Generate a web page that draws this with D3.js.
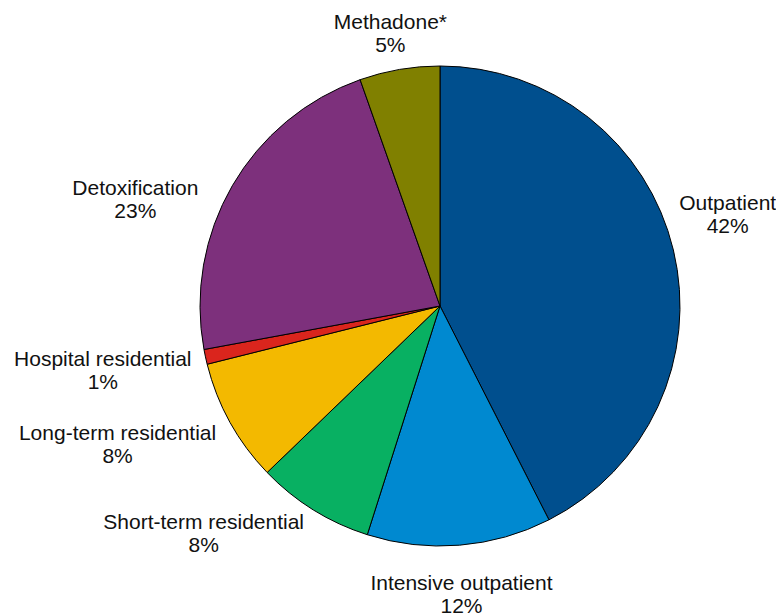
<!DOCTYPE html>
<html>
<head>
<meta charset="utf-8">
<script src="https://cdn.jsdelivr.net/npm/d3@7"></script>
<style>
    body { margin: 0; background: #fff; }
    svg text { font-family: "Liberation Sans", Arial, sans-serif; fill: #111; }
</style>
</head>
<body>
<svg id="chart" width="776" height="613"></svg>
<script>
var categories = [
    "Outpatient",
    "Intensive outpatient",
    "Short-term residential",
    "Long-term residential",
    "Hospital residential",
    "Detoxification",
    "Methadone*",
];

// share of admissions, percent
var shares = [42.5, 12.4, 7.9, 8.3, 1.0, 22.5, 5.4];

var pctLabels = ["42%", "12%", "8%", "8%", "1%", "23%", "5%"];

var sliceColors = [
    "#004F8E",
    "#0089D0",
    "#08B062",
    "#F3B900",
    "#DA251D",
    "#7D307C",
    "#808000",
];

// label nudges from the outer label arc centroid
var labelNudge = [
    [-4, -26],
    [-3, -15],
    [-78, -32],
    [-60, -11],
    [-44, -4],
    [-45, 39],
    [1, 19],
];

var svg = d3.select("#chart"),
    cx = 440,
    cy = 306,
    radius = 240;

var g = svg.append("g")
    .attr("transform", "translate(" + cx + "," + cy + ")");

var data = categories.map(function(c, i){
    return {name: c, value: shares[i], pct: pctLabels[i], color: sliceColors[i], nudge: labelNudge[i]};
});

var pie = d3.pie()
    .sort(null)
    .value(function(d) { return d.value; });

var arc = d3.arc()
    .innerRadius(0)
    .outerRadius(radius);

var labelArc = d3.arc()
    .innerRadius(300)
    .outerRadius(300);

var arcs = pie(data);

g.selectAll(".slice")
    .data(arcs)
  .enter().append("path")
    .attr("class", "slice")
    .attr("d", arc)
    .style("fill", function(d) { return d.data.color; })
    .style("stroke", "#000")
    .style("stroke-width", 1)
    .style("stroke-linejoin", "round");

var labels = g.selectAll(".label")
    .data(arcs)
  .enter().append("text")
    .attr("class", "label")
    .attr("text-anchor", "middle")
    .style("font-size", "21px")
    .attr("transform", function(d) {
        var c = labelArc.centroid(d);
        return "translate(" + (c[0] + d.data.nudge[0]) + "," + (c[1] + d.data.nudge[1]) + ")";
    });

labels.append("tspan")
    .attr("x", 0)
    .attr("y", 0)
    .text(function(d) { return d.data.name; });

labels.append("tspan")
    .attr("x", 0)
    .attr("y", 23)
    .text(function(d) { return d.data.pct; });
</script>
</body>
</html>
